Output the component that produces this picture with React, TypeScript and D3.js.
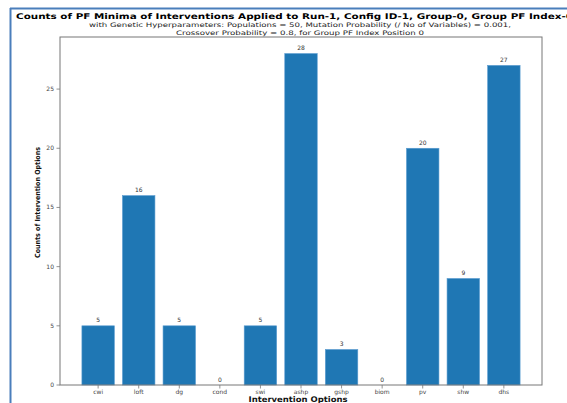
import React from "react";
import * as d3 from "d3";

const categories = ["cwi", "loft", "dg", "cond", "swi", "ashp", "gshp", "biom", "pv", "shw", "dhs"];
const counts = [5, 16, 5, 0, 5, 28, 3, 0, 20, 9, 27];
const yTicks = [0, 5, 10, 15, 20, 25];

const titleText = "Counts of PF Minima of Interventions Applied to Run-1, Config ID-1, Group-0, Group PF Index-0";
const subtitle1 = "with Genetic Hyperparameters: Populations = 50, Mutation Probability (/ No of Variables) = 0.001,";
const subtitle2 = "Crossover Probability = 0.8, for Group PF Index Position 0";
const xLabel = "Intervention Options";
const yLabel = "Counts of Intervention Options";

export default function App() {
  const W = 567, H = 403;
  const left = 60, right = 542, top = 37, bottom = 385;
  const n = categories.length;
  const barW = 0.8;
  const span = n - 1 + barW;
  const pad = span * 0.05;
  const x = d3.scaleLinear().domain([-barW / 2 - pad, n - 1 + barW / 2 + pad]).range([left, right]);
  const maxV = d3.max(counts) as number;
  const y = d3.scaleLinear().domain([0, maxV * 1.05]).range([bottom, top]);
  const cx = (left + right) / 2;
  const font = "'DejaVu Sans', sans-serif";
  const tickColor = "#444";

  return (
    <svg width={W} height={H} style={{ position: "absolute", left: 0, top: 0, background: "#fff" }} fontFamily={font}>
      <rect x={0} y={0} width={W} height={H} fill="#fff" />
      {/* frame */}
      <line x1={10} x2={W} y1={8.5} y2={8.5} stroke="#4a7ebb" strokeWidth={2} />
      <line x1={10.5} x2={10.5} y1={8} y2={H} stroke="#4a7ebb" strokeWidth={2} />

      {/* titles */}
      <text x={16} y={18.7} textAnchor="start" fontSize={7.9} fontWeight="bold" fill="#000"
        textLength={557} lengthAdjust="spacingAndGlyphs">{titleText}</text>
      <text x={300} y={27.3} textAnchor="middle" fontSize={6.2} fill="#222"
        textLength={422} lengthAdjust="spacingAndGlyphs">{subtitle1}</text>
      <text x={300} y={34.6} textAnchor="middle" fontSize={6.2} fill="#222"
        textLength={248} lengthAdjust="spacingAndGlyphs">{subtitle2}</text>

      {/* bars */}
      {counts.map((v, i) => (
        <g key={categories[i]}>
          {v > 0 && (
            <rect x={x(i - barW / 2)} y={y(v)} width={x(i + barW / 2) - x(i - barW / 2)} height={y(0) - y(v)}
              fill="#1f77b4" stroke="#5a9bd0" strokeWidth={0.6} />
          )}
          <text x={x(i)} y={y(v) - 3.5} textAnchor="middle" fontSize={6} fill="#333">{v}</text>
        </g>
      ))}

      {/* spines */}
      <rect x={left} y={top} width={right - left} height={bottom - top} fill="none" stroke="#777" strokeWidth={1} />

      {/* y ticks */}
      {yTicks.map((t) => (
        <g key={t}>
          <line x1={left - 3.5} x2={left} y1={y(t)} y2={y(t)} stroke="#777" strokeWidth={0.8} />
          <text x={left - 6} y={y(t) + 2} textAnchor="end" fontSize={6} fill={tickColor}>{t}</text>
        </g>
      ))}

      {/* x ticks */}
      {categories.map((c, i) => (
        <g key={c}>
          <line x1={x(i)} x2={x(i)} y1={bottom} y2={bottom + 3.5} stroke="#777" strokeWidth={0.8} />
          <text x={x(i)} y={393.5} textAnchor="middle" fontSize={6} fill={tickColor}>{c}</text>
        </g>
      ))}

      {/* axis labels */}
      <text x={298} y={402} textAnchor="middle" fontSize={7.8} fontWeight="bold" fill="#111"
        textLength={99} lengthAdjust="spacingAndGlyphs">{xLabel}</text>
      <text transform={`translate(40,${(147 + 258) / 2}) rotate(-90)`} textAnchor="middle" fontSize={7} fontWeight="bold" fill="#111"
        textLength={111} lengthAdjust="spacingAndGlyphs">{yLabel}</text>
    </svg>
  );
}
